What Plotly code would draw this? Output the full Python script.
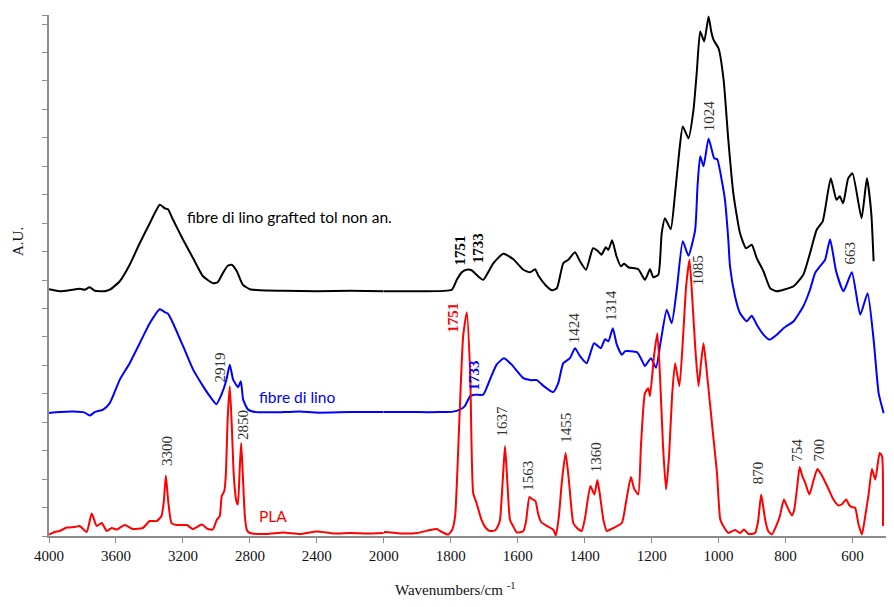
import numpy as np
import plotly.graph_objects as go

# ---------------- data (wavenumber cm-1, absorbance A.U.) ----------------
pla_wn = [4000, 3966, 3936, 3894, 3846, 3817, 3775, 3745, 3715, 3685, 3655, 3625, 3595, 3548, 3500,
          3440, 3398, 3356, 3328, 3314, 3302, 3288, 3268, 3237, 3177, 3141, 3087, 3051, 3022, 2998,
          2980, 2968, 2953, 2944, 2932, 2920, 2908, 2896, 2881, 2872, 2860, 2852, 2842, 2830, 2818,
          2801, 2700, 2600, 2500, 2400, 2300, 2200, 2100, 2000, 1997, 1950, 1900, 1862, 1841, 1832,
          1808, 1796, 1787, 1775, 1763, 1752, 1742, 1733, 1723, 1708, 1695, 1683, 1668, 1659, 1653,
          1644, 1638, 1632, 1623, 1614, 1603, 1583, 1575, 1565, 1557, 1547, 1539, 1530, 1513, 1494,
          1486, 1477, 1468, 1457, 1447, 1434, 1423, 1409, 1399, 1383, 1371, 1362, 1354, 1344, 1334,
          1314, 1289, 1276, 1262, 1253, 1240, 1232, 1220, 1210, 1205, 1193, 1183, 1175, 1166, 1157,
          1148, 1139, 1130, 1117, 1106, 1097, 1087, 1079, 1070, 1060, 1052, 1045, 1037, 1025, 1016,
          1005, 995, 986, 971, 951, 936, 924, 911, 891, 882, 873, 867, 861, 852, 841,
          828, 817, 805, 796, 781, 774, 765, 758, 750, 741, 729, 717, 705, 694, 681,
          669, 657, 642, 631, 619, 610, 602, 592, 582, 572, 562, 552, 542, 532, 519,
          512, 509]
pla_au = [1.5, 4, 5, 8.5, 9, 10, 4, 22.5, 10, 13, 5, 8, 6.5, 11, 7,
          8, 15, 15, 20, 35, 60.5, 35, 13, 11, 11, 7, 11.5, 7, 6.5, 16,
          20, 40, 45, 60, 120, 150, 110, 60, 35, 31.5, 70, 93, 60, 20, 6,
          3, 2, 3.5, 2, 4.5, 2.5, 3, 2.5, 3, 4, 2.5, 3, 6, 7, 5,
          1.5, 6, 20, 110, 200, 224, 163, 43, 33, 16, 8, 5, 5.5, 10, 16,
          60, 90, 60, 16, 10, 3.5, 5, 15, 39, 37, 35, 22, 14, 10, 6.5,
          0.5, 20, 55, 83, 55, 13, 8, 5, 18, 50, 41.5, 56, 40, 16, 5,
          8, 13, 35, 59, 48, 41.5, 90, 143, 148, 140, 180, 203, 160, 90, 46.5,
          80, 140, 173, 150, 200, 250, 276.5, 240, 190, 150, 175, 193, 170, 130, 100,
          63.5, 16.5, 10, 3, 6, 3, 6.5, 2, 3, 15, 41.5, 30, 16.5, 5, 1.5,
          10, 20, 36.5, 30, 20.5, 26.5, 50, 69, 60, 53, 41.5, 55, 67, 62, 53.5,
          45, 36.5, 30.5, 32, 36.5, 31, 29, 28, 11.5, 1.5, 20, 41.5, 67, 56.5, 83,
          80, 10]

lino_wn = [4000, 3936, 3857, 3787, 3757, 3727, 3677, 3637, 3577, 3518, 3458, 3398, 3338, 3308, 3289,
           3259, 3199, 3139, 3080, 3040, 3000, 2970, 2940, 2920, 2900, 2870, 2854, 2840, 2811, 2760,
           2600, 2500, 2400, 2200, 2000, 1900, 1832, 1793, 1773, 1758, 1742, 1728, 1703, 1683, 1663,
           1641, 1618, 1583, 1558, 1543, 1524, 1494, 1479, 1464, 1444, 1429, 1414, 1394, 1372, 1352,
           1339, 1329, 1316, 1304, 1289, 1279, 1244, 1230, 1220, 1202, 1187, 1172, 1155, 1140, 1125,
           1107, 1090, 1070, 1063, 1055, 1045, 1030, 1013, 1004, 990, 981, 971, 966, 951, 936,
           916, 901, 886, 866, 848, 826, 806, 776, 747, 727, 712, 697, 682, 667, 649,
           627, 602, 577, 555, 537, 522, 507]
lino_au = [123, 124, 124.5, 123.5, 120.5, 124, 126.5, 133, 156.5, 173, 193, 213, 227, 224, 222.5,
           213, 190, 166.5, 150, 140, 132, 141.5, 156.5, 171.5, 156.5, 149, 155, 136.5, 126.5, 124,
           124, 124.5, 123.5, 124, 124, 124, 124, 124.5, 126.5, 130, 140, 141.5, 141.5, 156.5, 171.5,
           178, 171.5, 158, 156, 156, 150.5, 144, 153, 173, 178, 188, 180, 173, 193, 188,
           197, 195, 208, 191.5, 181.5, 185, 184, 176.5, 170, 178, 168.5, 196.5, 226.5, 213, 246.5,
           295, 280.5, 306.5, 350, 380, 370, 398, 378, 377, 355, 336.5, 296.5, 270, 240, 223,
           215, 220.5, 211.5, 201.5, 196.5, 201.5, 208, 215, 230, 246.5, 263, 270, 276.5, 297, 265,
           245, 264, 221.5, 243, 196.5, 143, 123]

graft_wn = [4000, 3936, 3876, 3816, 3787, 3757, 3727, 3667, 3637, 3577, 3518, 3458, 3398, 3338, 3308,
            3289, 3259, 3199, 3139, 3080, 3020, 2992, 2962, 2932, 2908, 2878, 2842, 2800, 2740, 2600,
            2400, 2200, 2000, 1900, 1797, 1782, 1767, 1753, 1738, 1723, 1703, 1673, 1643, 1613, 1583,
            1563, 1548, 1538, 1518, 1498, 1483, 1464, 1449, 1429, 1414, 1396, 1375, 1360, 1350, 1337,
            1329, 1318, 1305, 1292, 1282, 1270, 1240, 1220, 1205, 1195, 1180, 1170, 1160, 1143, 1130,
            1117, 1107, 1090, 1075, 1065, 1055, 1043, 1030, 1022, 1015, 1000, 985, 971, 956, 936,
            918, 901, 886, 866, 846, 826, 806, 776, 747, 727, 707, 689, 665, 648, 638,
            628, 613, 600, 573, 557, 544, 537]
graft_au = [247, 245, 246, 247.5, 246.5, 249, 245.5, 245, 246.5, 255, 271.5, 293, 313, 331.5, 328,
            327, 316.5, 296.5, 278, 260, 253, 254, 263, 270.5, 271.5, 265, 251.5, 247, 246, 245.5,
            245, 245.5, 245, 245, 246.5, 256.5, 264, 266.5, 266, 261.5, 256.5, 273, 282.5, 277, 266.5,
            264, 267, 260.5, 251.5, 246, 248, 273, 276.5, 284, 275, 266.5, 288, 285, 281.5, 289,
            286.5, 296, 280, 270, 272.5, 269, 267, 256.5, 267, 259, 261.5, 303, 318, 307, 343,
            386.5, 410, 398, 426.5, 465, 505, 495, 520, 505, 496.5, 488, 456.5, 396.5, 343, 303,
            288, 291.5, 278, 265, 248, 245, 246.5, 250, 261.5, 283, 306.5, 315, 358, 336.5, 340,
            333, 358, 363, 318, 358, 323, 275]

peak_text = ["3300", "2919", "2850", "1751", "1733", "1637", "1563", "1455", "1360", "1424",
             "1314", "1751", "1733", "1085", "1024", "663", "870", "754", "700"]
peak_wn = [3298, 2980, 2845, 1793, 1731, 1647, 1572, 1457, 1366, 1432,
           1321, 1773, 1720, 1063, 1028, 607, 882, 768, 700]
peak_au = [84.5, 168.5, 111.5, 218.5, 160.5, 115.5, 60.5, 108, 79, 209,
           230.5, 285.5, 287.5, 265.5, 420.5, 283, 63, 85.5, 85.5]
peak_color = ["#333333", "#333333", "#333333", "#ff0000", "#0000ff", "#333333", "#333333", "#333333",
              "#333333", "#333333", "#333333", "#000000", "#000000", "#333333", "#333333", "#333333",
              "#333333", "#333333", "#333333"]
peak_bold = [False, False, False, True, True, False, False, False, False, False,
             False, True, True, False, False, False, False, False, False]

series_names = ["fibre di lino grafted tol non an.", "fibre di lino", "PLA"]
series_colors = ["#000000", "#0000ff", "#ff0000"]
name_wn = [3189, 2759, 2759]
name_au = [319.5, 139, 20]

x_ticks_hi = [4000, 3600, 3200, 2800, 2400, 2000]
x_ticks_lo = [1800, 1600, 1400, 1200, 1000, 800, 600]

# ---------------- figure ----------------
OFF = 8                       # default page body margin
W, H = 894 - 2 * OFF, 607 - 2 * OFF
ML, MR, MT = 49 - OFF, 0, 15 - OFF
MB = H - (536 - OFF)
Y_TOP = 521.5
Y_DT = 28.47
SPLIT = 2000

fig = go.Figure()

def add_series(wn, au, color):
    wn = np.asarray(wn, float)
    au = np.asarray(au, float)
    hi = wn >= SPLIT
    lo = wn <= SPLIT
    common = dict(mode="lines", line=dict(color=color, width=2, shape="spline", smoothing=0.5),
                  hoverinfo="skip", showlegend=False)
    fig.add_trace(go.Scatter(x=wn[hi], y=au[hi], xaxis="x", yaxis="y", **common))
    fig.add_trace(go.Scatter(x=wn[lo], y=au[lo], xaxis="x2", yaxis="y", **common))

add_series(graft_wn, graft_au, series_colors[0])
add_series(lino_wn, lino_au, series_colors[1])
add_series(pla_wn, pla_au, series_colors[2])

serif = "Liberation Serif, Times New Roman, serif"
axis_col = "#8c8c8c"
split_frac = 5 / 12.5

axis_common = dict(showline=True, linecolor=axis_col, linewidth=1.5, ticks="outside",
                   ticklen=5, tickcolor=axis_col, tickwidth=1.2, showgrid=False, zeroline=False,
                   tickfont=dict(family=serif, size=15, color="#111111"), fixedrange=True)

fig.update_layout(
    width=W, height=H,
    margin=dict(l=ML, r=MR, t=MT, b=MB, autoexpand=False),
    paper_bgcolor="white", plot_bgcolor="white",
    xaxis=dict(domain=[0, split_frac], range=[4000, SPLIT], tickmode="array",
               tickvals=x_ticks_hi, ticktext=[str(v) for v in x_ticks_hi], anchor="y", **axis_common),
    xaxis2=dict(domain=[split_frac, 1], range=[SPLIT, 500], tickmode="array",
                tickvals=x_ticks_lo, ticktext=[str(v) for v in x_ticks_lo], anchor="y", **axis_common),
    yaxis=dict(range=[0, Y_TOP], tickmode="array",
               tickvals=[k * Y_DT for k in range(19)] + [Y_TOP], showticklabels=False,
               anchor="x", **axis_common),
)

for t, w, a, c, b in zip(peak_text, peak_wn, peak_au, peak_color, peak_bold):
    fig.add_annotation(x=w, y=a, xref="x" if w >= SPLIT else "x2", yref="y",
                       text=f"<b>{t}</b>" if b else t,
                       textangle=-90, showarrow=False, xanchor="center", yanchor="middle",
                       font=dict(family=serif, size=15, color=c))

for t, w, a, c in zip(series_names, name_wn, name_au, series_colors):
    fig.add_annotation(x=w, y=a, xref="x" if w >= SPLIT else "x2", yref="y", text=t,
                       showarrow=False, xanchor="left", yanchor="middle",
                       font=dict(family="Lato, Noto Sans, sans-serif", size=15.5, color=c))

plot_w = W - ML - MR
plot_h = H - MT - MB
def paper_x(page_px):
    return (page_px - OFF - ML) / plot_w
def paper_y(page_py):
    return (H - MB - (page_py - OFF)) / plot_h

fig.add_annotation(x=paper_x(455), y=paper_y(599), xref="paper", yref="paper",
                   text="Wavenumbers/cm <sup>-1</sup>", showarrow=False,
                   xanchor="center", yanchor="bottom", borderpad=0,
                   font=dict(family=serif, size=15, color="#111111"))
fig.add_annotation(x=paper_x(18), y=paper_y(242), xref="paper", yref="paper",
                   text="A.U.", textangle=-90, showarrow=False,
                   xanchor="center", yanchor="middle",
                   font=dict(family=serif, size=15, color="#111111"))

fig.write_html("out.html")
